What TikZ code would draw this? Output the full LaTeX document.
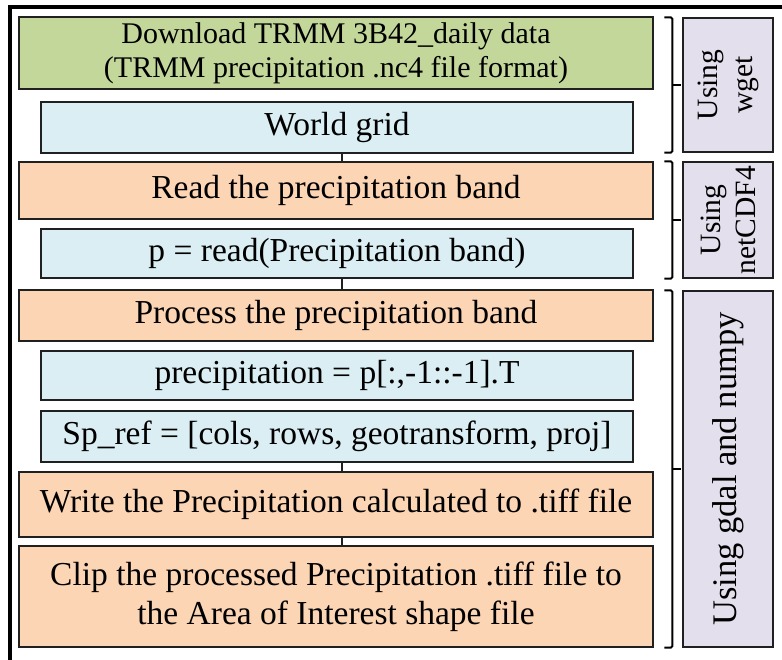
\documentclass[tikz,border=0pt]{standalone}
\usepackage{fontspec}
\setmainfont{Liberation Serif}
\usetikzlibrary{calc}

\definecolor{boxgreen}{HTML}{C4D79B}
\definecolor{boxblue}{HTML}{DAEEF3}
\definecolor{boxorange}{HTML}{FCD5B5}
\definecolor{boxpurple}{HTML}{E4DFEC}
\definecolor{edge}{HTML}{202020}

\tikzset{
  stepbox/.style={draw=edge, line width=1.4pt, rectangle, inner sep=0pt,
    align=center, font=\fontsize{33.5}{39}\selectfont},
  wide/.style={stepbox, minimum width=634pt},
  narrow/.style={stepbox, minimum width=592pt},
  toolbox/.style={draw=edge, line width=1.4pt, fill=boxpurple, rectangle,
    inner sep=0pt, minimum width=90pt},
  tooltext/.style={rotate=90, align=center, inner sep=0pt,
    font=\fontsize{29.5}{35}\selectfont},
  link/.style={draw=edge, line width=1.4pt},
  bracket/.style={draw=black, line width=2pt, rounded corners=1.5pt},
}

\begin{document}
\begin{tikzpicture}[x=1pt, y=-1pt]
\useasboundingbox (0,0) rectangle (782,660);

% outer frame (only its top and left sides fall inside the page)
\draw[line width=3.5pt] (10,662) -- (10,7) -- (784,7);

% processing steps
\node[wide, fill=boxgreen, minimum height=72pt, font=\fontsize{30}{34}\selectfont] (dl) at (336,53)
  {Download TRMM 3B42\_daily data\\(TRMM precipitation .nc4 file format)};
\node[narrow, fill=boxblue, minimum height=51pt] (grid) at (337,127.5) {World grid};
\node[wide, fill=boxorange, minimum height=57pt] (read) at (336,190.5) {Read the precipitation band};
\node[narrow, fill=boxblue, minimum height=49pt] (pread) at (337,253.5) {p = read(Precipitation band)};
\node[wide, fill=boxorange, minimum height=51pt] (proc) at (336,315.5) {Process the precipitation band};
\node[narrow, fill=boxblue, minimum height=49pt] (prec) at (337,375.5) {precipitation = p[:,-1::-1].T};
\node[narrow, fill=boxblue, minimum height=51pt] (spref) at (337,436.5) {Sp\_ref = [cols, rows, geotransform, proj]};
\node[wide, fill=boxorange, minimum height=65pt] (write) at (336,504.5) {Write the Precipitation calculated to .tiff file};
\node[wide, fill=boxorange, minimum height=101pt] (clip) at (336,596.5)
  {Clip the processed Precipitation .tiff file to\\the Area of Interest shape file};

% short links between consecutive steps
\draw[link] ([xshift=5pt]grid.south) -- ([xshift=6pt]read.north);
\draw[link] ([xshift=5pt]pread.south) -- ([xshift=6pt]proc.north);
\draw[link] ([xshift=5pt]spref.south) -- ([xshift=6pt]write.north);
\draw[link] ([xshift=6pt]write.south) -- ([xshift=6pt]clip.north);

% tool labels
\node[toolbox, minimum height=134pt] (lwget) at (728,85) {};
\node[tooltext] (twget) at (lwget.center) {Using\\wget};
\node[toolbox, minimum height=116pt] (lnet) at (728,220) {};
\node[tooltext] (tnet) at (lnet.center) {Using\\netCDF4};
\node[toolbox, minimum height=356pt] (lgdal) at (728,469) {};
\node[tooltext, font=\fontsize{34.5}{35}\selectfont] (tgdal) at (lgdal.center) {Using gdal and numpy};

% brackets grouping the steps under each tool
\foreach \lab in {lwget, lnet, lgdal} {
  \draw[bracket] ([xshift=-18pt]\lab.north west) -- ([xshift=-10pt]\lab.north west)
    -- ([xshift=-10pt]\lab.south west) -- ([xshift=-18pt]\lab.south west);
  \draw[bracket] ([xshift=-10pt]\lab.west) -- ([xshift=-1pt]\lab.west);
}
\end{tikzpicture}
\end{document}
